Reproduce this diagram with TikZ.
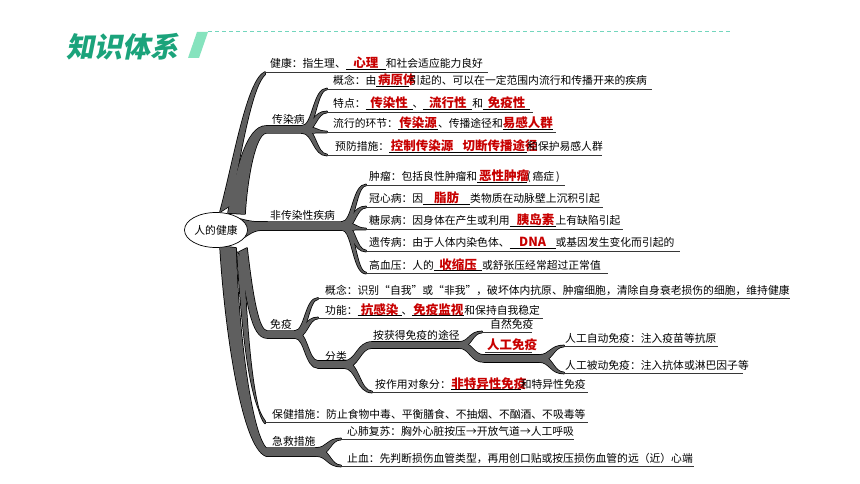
\documentclass[tikz,border=0pt]{standalone}
\usepackage{fontspec}
\setmainfont{Noto Sans CJK SC}
\newfontfamily\hdr[FakeSlant=0.2]{Noto Sans CJK SC}
\usetikzlibrary{shapes.geometric}
\definecolor{redc}{RGB}{200,0,0}
\definecolor{brfill}{RGB}{95,95,95}
\definecolor{ulc}{RGB}{55,55,55}
\definecolor{hdrgreen}{RGB}{27,163,123}
\definecolor{hdrlight}{RGB}{134,227,190}
\definecolor{dashc}{RGB}{115,214,189}
\newcommand\rt{\color{redc}\bfseries\fontsize{12.5}{13}\selectfont}
\newcommand\blk[3][0pt]{\rlap{\rule[-1.8pt]{#2}{0.6pt}}\makebox[#2][c]{\kern#1{\rt #3}\kern-#1}}
% twig: style, x0,y0,w0, x1,y1,w1
\newcommand\twig[7]{%
  \pgfmathsetmacro\xm{(#2+#5)/2}%
  \pgfmathsetmacro\dd{(#3>#6) ? 1.4 : -1.4}%
  \path[#1] (#2,#3-#4) .. controls (\xm-\dd,#3-#4) and (\xm-\dd,#6-#7) .. (#5,#6-#7) -- (#5,#6+#7) .. controls (\xm+\dd,#6+#7) and (\xm+\dd,#3+#4) .. (#2,#3+#4) -- cycle;}
\newcommand\allshapes[1]{%
  % up: chuanranbing branch
  \path[#1] (228,213) .. controls (236,172) and (246,126) .. (266,126) -- (310,126) -- (310,133) -- (266,133) .. controls (255,134) and (247,180) .. (245,214) -- cycle;
  % jiankang sliver
  \path[#1] (220,212) .. controls (234,160) and (247,80) .. (265,72) -- (265,74.5) .. controls (252,86) and (241,150) .. (231,205) -- cycle;
  % feichuanran wedge + bar
  \path[#1] (240,219) .. controls (252,222) .. (268,222) -- (350,222) -- (350,230) -- (268,230) .. controls (255,230) .. (240,240) -- cycle;
  % down: jijiu
  \path[#1] (220,246) .. controls (225,330) and (242,447) .. (266,456) -- (323,456) -- (323,448) -- (266,448) .. controls (251,432) and (238,330) .. (236,248) -- cycle;
  % baojian sliver
  \path[#1] (237,252) .. controls (242,330) and (249,400) .. (265,421) -- (265,423.5) .. controls (254,412) and (247,340) .. (244,262) -- cycle;
  % mianyi
  \path[#1] (239,252) .. controls (247,300) and (251,338) .. (267,338) -- (302,338) -- (302,331) -- (267,331) .. controls (259,331) and (253,300) .. (247,248) -- cycle;
  % forks
  \twig{#1}{302}{129.5}{3.5}{327}{89}{0.6}
  \twig{#1}{302}{129.5}{3.5}{327}{112}{0.6}
  \twig{#1}{302}{129.5}{3.5}{327}{132}{0.6}
  \twig{#1}{302}{129.5}{3.5}{327}{155}{0.6}
  \twig{#1}{342}{226}{4}{366}{185}{0.6}
  \twig{#1}{342}{226}{4}{366}{207}{0.6}
  \twig{#1}{342}{226}{4}{366}{229}{0.6}
  \twig{#1}{342}{226}{4}{366}{251}{0.6}
  \twig{#1}{342}{226}{4}{366}{273}{0.6}
  \twig{#1}{295}{334.5}{3.5}{318}{298.5}{0.6}
  \twig{#1}{295}{334.5}{3.5}{318}{318}{0.6}
  \twig{#1}{295}{334.5}{3.5}{318}{364.5}{3.5}
  \path[#1] (318,361) rectangle (350,368);
  \twig{#1}{344}{364.5}{3.5}{372}{345}{3}
  \twig{#1}{344}{364.5}{3.5}{372}{392}{0.6}
  \path[#1] (372,342) rectangle (465,348);
  \twig{#1}{459}{345}{3}{482}{332}{0.6}
  \twig{#1}{459}{345}{3}{484}{358.5}{3.5}
  \path[#1] (484,355) rectangle (545,362);
  \twig{#1}{539}{358.5}{3.5}{564}{346}{0.6}
  \twig{#1}{539}{358.5}{3.5}{564}{373}{0.6}
  \twig{#1}{316}{452}{4}{341}{439}{0.6}
  \twig{#1}{316}{452}{4}{341}{466}{0.6}
}
\tikzset{
  uln/.style={draw=ulc, line width=0.9pt},
  txt/.style={anchor=base west, inner sep=0pt, font=\fontsize{10.8}{13}\selectfont},
  rtxt/.style={anchor=base west, inner sep=0pt, font=\rt},
}
\begin{document}
\begin{tikzpicture}[x=1pt,y=-1pt]
\useasboundingbox (0,0) rectangle (860,484);
\fill[white] (0,0) rectangle (860,484);
% header
\node[anchor=west, inner sep=0pt, text=hdrgreen, font=\hdr\bfseries\fontsize{28}{30}\selectfont] (title) at (66,46.5) {知识体系};
\fill[hdrlight] (197,32) -- (208,32) -- (199,58) -- (188,58) -- cycle;
\coordinate (dashA) at (208,32);
\coordinate (dashB) at (730,32);
\draw[dashc, line width=1pt, dash pattern=on 4pt off 3pt] (dashA) -- (dashB);
% branch shapes: outline first, then fill
\allshapes{draw=black, line width=1.5pt, line join=round}
\allshapes{fill=brfill}
% root
\node[ellipse, draw=black, line width=0.7pt, fill=white, minimum width=63pt, minimum height=35pt, inner sep=0pt, font=\fontsize{10.8}{13}\selectfont] (root) at (216,230) {人的健康};
% underlines
\draw[uln] (265,72) -- (488,72);
\draw[uln] (327,89) -- (652,89);
\draw[uln] (327,112) -- (533,112);
\draw[uln] (327,132) -- (556,132);
\draw[uln] (327,155) -- (602,155);
\draw[uln] (366,185) -- (565,185);
\draw[uln] (366,207) -- (603,207);
\draw[uln] (366,229) -- (623,229);
\draw[uln] (366,251) -- (680,251);
\draw[uln] (366,273) -- (608,273);
\draw[uln] (318,298.5) -- (790,298.5);
\draw[uln] (318,318) -- (543,318);
\draw[uln] (482,332) -- (532,332);
\draw[uln, line width=0.6pt] (485,352) -- (532,352);
\draw[uln] (564,346) -- (718,346);
\draw[uln] (564,373) -- (743,373);
\draw[uln] (372,392) -- (588,392);
\draw[uln] (265,422) -- (588,422);
\draw[uln] (341,439) -- (574,439);
\draw[uln] (341,466) -- (694,466);
% branch labels
\node[txt] (crb) at (272,123.5) {传染病};
\node[txt] (fcr) at (270,219) {非传染性疾病};
\node[txt] (my) at (270,328.5) {免疫};
\node[txt] (fl) at (325,360) {分类};
\node[txt] (jj) at (272,445.5) {急救措施};
% leaves
\node[txt] (jk) at (270,68) {健康：指生理、\blk{40pt}{心理}和社会适应能力良好};
\node[txt] (gn1) at (333,85) {概念：由\blk[4pt]{33pt}{病原体}引起的、可以在一定范围内流行和传播开来的疾病};
\node[txt] (td) at (333,108) {特点：\blk{47pt}{传染性}、\blk{49pt}{流行性}和\blk{47pt}{免疫性}};
\node[txt] (lx) at (333,128) {流行的环节：\blk{40pt}{传染源}、传播途径和\blk{50pt}{易感人群}};
\node[txt] (yf) at (335,151) {预防措施：\blk{66pt}{控制传染源}\blk[9pt]{72pt}{切断传播途径}和保护易感人群};
\node[txt] (zl) at (369,181) {肿瘤：包括良性肿瘤和\blk[2pt]{50pt}{恶性肿瘤}(\,癌症\,)};
\node[txt] (gx) at (369,203) {冠心病：因\blk{47pt}{脂肪}类物质在动脉壁上沉积引起};
\node[txt] (tn) at (369,225) {糖尿病：因身体在产生或利用\blk[3pt]{46pt}{胰岛素}上有缺陷引起};
\node[txt] (yc) at (369,247) {遗传病：由于人体内染色体、\blk{46pt}{DNA}或基因发生变化而引起的};
\node[txt] (gxy) at (369,269) {高血压：人的\blk{48pt}{收缩压}或舒张压经常超过正常值};
\node[txt] (gn2) at (325,294.5) {概念：识别“自我”或“非我”，破坏体内抗原、肿瘤细胞，清除自身衰老损伤的细胞，维持健康};
\node[txt] (gneng) at (325,314) {功能：\blk{44pt}{抗感染}、\blk{52pt}{免疫监视}和保持自我稳定};
\node[txt] (hd) at (373,339.5) {按获得免疫的途径};
\node[txt] (zr) at (490,328) {自然免疫};
\node[rtxt] (rg) at (487,349) {人工免疫};
\node[txt] (zd) at (565,342) {人工自动免疫：注入疫苗等抗原};
\node[txt] (bd) at (565,369) {人工被动免疫：注入抗体或淋巴因子等};
\node[txt] (zy) at (375,388) {按作用对象分：\blk[3pt]{70pt}{非特异性免疫}和特异性免疫};
\node[txt] (bj) at (272,418) {保健措施：防止食物中毒、平衡膳食、不抽烟、不酗酒、不吸毒等};
\node[txt] (xf) at (347,435) {心肺复苏：胸外心脏按压→开放气道→人工呼吸};
\node[txt] (zx) at (347,462) {止血：先判断损伤血管类型，再用创口贴或按压损伤血管的远（近）心端};
\end{tikzpicture}
\end{document}
